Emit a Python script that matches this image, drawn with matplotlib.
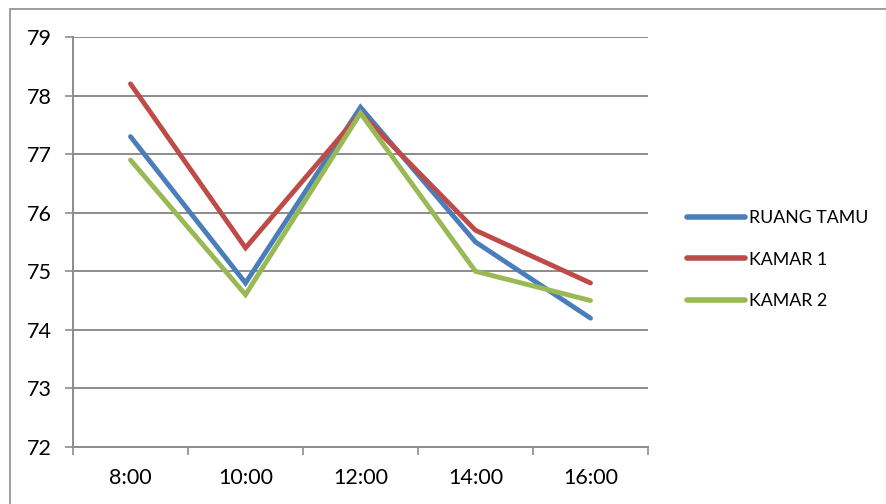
#!/usr/bin/env python3
# -*- coding: utf-8 -*-

"""
Line chart of readings per room (RUANG TAMU, KAMAR 1, KAMAR 2) by hour.
Output: out.png (886x504)
"""

import numpy as np
import matplotlib.pyplot as plt
from matplotlib.patches import Rectangle


# data
hours = ["8:00", "10:00", "12:00", "14:00", "16:00"]
ruang_tamu = [77.3, 74.8, 77.8, 75.5, 74.2]
kamar_1 = [78.2, 75.4, 77.7, 75.7, 74.8]
kamar_2 = [76.9, 74.6, 77.7, 75.0, 74.5]

series_names = ["RUANG TAMU", "KAMAR 1", "KAMAR 2"]
series_colors = ["#4A7EBB", "#BE4B48", "#98B954"]

GRID_GRAY = "#8c8c8c"


def main():
    plt.rcParams["font.family"] = ["Lato", "DejaVu Sans"]
    plt.rcParams["font.size"] = 15.5

    fig = plt.figure(figsize=(8.86, 5.04), dpi=100)
    ax = fig.add_axes([73 / 886, 1 - 447 / 504, (648 - 73) / 886, (447 - 37) / 504])

    x = np.arange(len(hours))
    for vals, name, color in zip([ruang_tamu, kamar_1, kamar_2], series_names, series_colors):
        ax.plot(x, vals, color=color, linewidth=3.5, label=name,
                solid_capstyle="round", solid_joinstyle="miter")

    ax.set_xlim(-0.5, len(hours) - 0.5)
    ax.set_ylim(72, 79)
    ax.set_yticks(range(72, 80))

    # category ticks between labels
    ax.set_xticks(x)
    ax.set_xticklabels(hours)
    ax.set_xticks(np.arange(-0.5, len(hours), 1.0), minor=True)
    ax.tick_params(axis="x", which="major", length=0, pad=15)
    ax.tick_params(axis="x", which="minor", length=6, width=1.2, color=GRID_GRAY, direction="out")
    ax.tick_params(axis="y", length=6, width=1.2, color=GRID_GRAY, pad=9)

    ax.grid(True, axis="y", color=GRID_GRAY, linewidth=1.4)
    ax.set_axisbelow(True)
    for side in ["top", "right"]:
        ax.spines[side].set_visible(False)
    for side in ["left", "bottom"]:
        ax.spines[side].set_color(GRID_GRAY)
        ax.spines[side].set_linewidth(1.4)

    leg = ax.legend(loc="center left", bbox_to_anchor=(1.055, 0.457), frameon=False,
                    handlelength=3.3, handletextpad=0.2, labelspacing=1.45,
                    borderaxespad=0, fontsize=12.8)
    for line in leg.get_lines():
        line.set_linewidth(4)
        line.set_solid_capstyle("round")

    # chart border
    fig.patches.append(Rectangle((10 / 886, -0.2), 1.2, 0.2 + (1 - 9 / 504),
                                 transform=fig.transFigure, fill=False,
                                 edgecolor=GRID_GRAY, linewidth=1.2))

    fig.savefig("out.png", dpi=100)
    plt.close(fig)


if __name__ == "__main__":
    main()
